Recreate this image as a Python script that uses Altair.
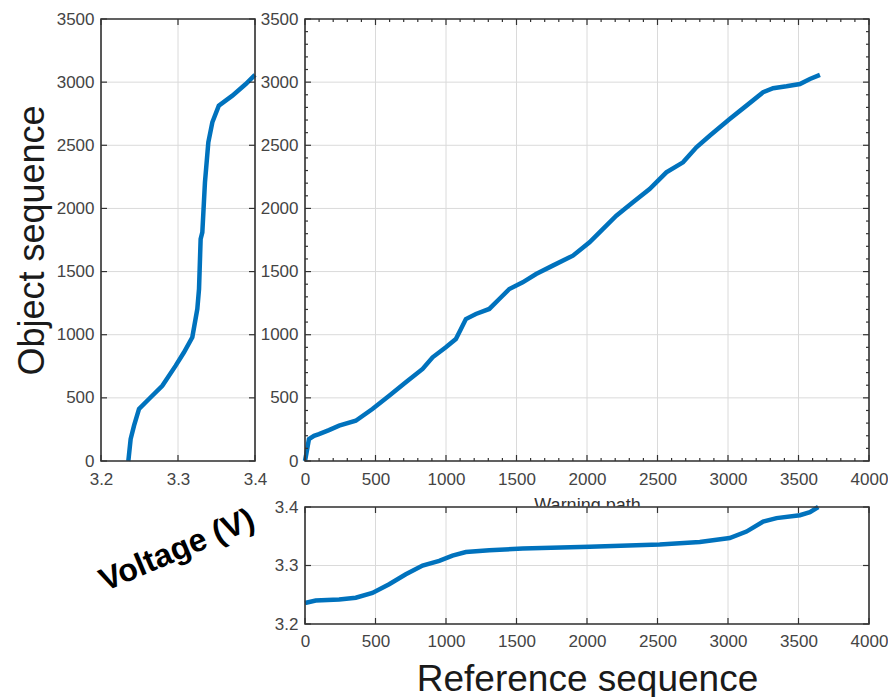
import altair as alt
import pandas as pd

# ---- data -----------------------------------------------------------------
# Warping path: reference index vs. object index
path_ref = [0, 10, 28, 64, 99, 170, 242, 360, 478, 597, 715, 834, 905, 999,
            1070, 1106, 1141, 1212, 1307, 1378, 1449, 1544, 1639, 1757, 1900,
            2018, 2089, 2208, 2326, 2444, 2563, 2681, 2776, 2870, 3012, 3131,
            3249, 3320, 3415, 3510, 3581, 3652]
path_obj = [0, 60, 174, 200, 213, 245, 280, 319, 412, 517, 623, 729, 821, 900,
            966, 1045, 1124, 1164, 1204, 1283, 1362, 1415, 1481, 1547, 1626,
            1732, 1811, 1942, 2048, 2154, 2286, 2365, 2484, 2576, 2708, 2814,
            2920, 2952, 2967, 2985, 3025, 3057]

# Reference voltage curve
ref_idx = [0, 76, 242, 360, 478, 597, 715, 834, 952, 1046, 1141, 1307, 1544,
           2018, 2515, 2800, 3012, 3131, 3249, 3344, 3510, 3581, 3640]
ref_volt = [3.236, 3.240, 3.242, 3.245, 3.253, 3.268, 3.285, 3.300, 3.308,
            3.317, 3.323, 3.326, 3.329, 3.332, 3.336, 3.340, 3.347, 3.358,
            3.375, 3.381, 3.386, 3.391, 3.400]

# Object voltage curve
obj_volt = [3.2355, 3.2385, 3.2429, 3.2494, 3.2623, 3.2796, 3.2970, 3.3078,
            3.3186, 3.3251, 3.3273, 3.3294, 3.3316, 3.3350, 3.3394, 3.3446,
            3.3530, 3.3706, 3.3880, 3.4000]
obj_idx = [0, 174, 280, 412, 491, 596, 755, 861, 980, 1204, 1362, 1758, 1811,
           2207, 2524, 2682, 2814, 2893, 2985, 3057]

# tick positions
seq_ticks = [0, 500, 1000, 1500, 2000, 2500, 3000, 3500, 4000]
obj_ticks = [0, 500, 1000, 1500, 2000, 2500, 3000, 3500]
volt_ticks = [3.2, 3.3, 3.4]
seq_minor = [v for v in range(0, 4001, 100) if v % 500]
obj_minor = [v for v in range(0, 3501, 100) if v % 500]

BLUE = "#0072BD"
TICK = "#333333"
GRID = "#dadada"
FONT = "Liberation Sans"
LINE_W = 4.5

path_df = pd.DataFrame({"ref": path_ref, "obj": path_obj})
ref_df = pd.DataFrame({"ref": ref_idx, "volt": ref_volt})
obj_df = pd.DataFrame({"volt": obj_volt, "obj": obj_idx})

SEQ_DOM = [0, 4000]
OBJ_DOM = [0, 3500]
VOLT_DOM = [3.2, 3.4]
seq_scale = alt.Scale(domain=SEQ_DOM, nice=False, zero=False)
obj_scale = alt.Scale(domain=OBJ_DOM, nice=False, zero=False)
volt_scale = alt.Scale(domain=VOLT_DOM, nice=False, zero=False)


def grid(values, channel, scale, axis, W, H):
    """Light grid lines across the plot area."""
    rule = alt.Chart(pd.DataFrame({"t": values})).mark_rule(
        color=GRID, strokeWidth=1)
    if channel == "x":
        return rule.encode(x=alt.X("t:Q", scale=scale, axis=axis),
                           y=alt.value(0), y2=alt.value(H))
    return rule.encode(y=alt.Y("t:Q", scale=scale, axis=axis),
                       x=alt.value(0), x2=alt.value(W))


def inward_ticks(values, channel, scale, axis, W, H, length):
    """Box ticks on all four sides, pointing into the plot area."""
    rule = alt.Chart(pd.DataFrame({"t": values})).mark_rule(
        color=TICK, strokeWidth=1.2)
    if channel == "x":
        pos = alt.X("t:Q", scale=scale, axis=axis)
        return [
            rule.encode(x=pos, y=alt.value(H), y2=alt.value(H - length)),
            rule.encode(x=pos, y=alt.value(0), y2=alt.value(length)),
        ]
    pos = alt.Y("t:Q", scale=scale, axis=axis)
    return [
        rule.encode(y=pos, x=alt.value(0), x2=alt.value(length)),
        rule.encode(y=pos, x=alt.value(W), x2=alt.value(W - length)),
    ]


def frame(xdom, ydom, xscale, yscale, xaxis, yaxis):
    """Axes box spanning both scale domains."""
    df = pd.DataFrame({"x0": [xdom[0]], "x1": [xdom[1]],
                       "y0": [ydom[0]], "y1": [ydom[1]]})
    return alt.Chart(df).mark_rect(
        filled=False, stroke="#333333", strokeWidth=1.6
    ).encode(
        x=alt.X("x0:Q", scale=xscale, axis=xaxis), x2="x1:Q",
        y=alt.Y("y0:Q", scale=yscale, axis=yaxis), y2="y1:Q",
    )


# ---- left: object voltage vs object sequence ------------------------------
LW, LH = 154, 442
left_x_axis = alt.Axis(values=volt_ticks, format=".1f", title=None,
                       labelPadding=10)
left_y_axis = alt.Axis(values=obj_ticks, format="d", title="Object sequence",
                       titleFontSize=36, titleFontWeight="normal",
                       titleColor="#1a1a1a", titleAngle=270,
                       titleBaseline="middle", titleAlign="center",
                       titleX=-69, titleY=221, labelPadding=7)
left_line = alt.Chart(obj_df).mark_line(color=BLUE, strokeWidth=LINE_W).encode(
    x=alt.X("volt:Q", scale=volt_scale, axis=left_x_axis),
    y=alt.Y("obj:Q", scale=obj_scale, axis=left_y_axis),
    order="obj:Q",
)
volt_label = alt.Chart(pd.DataFrame({"lbl": ["Voltage (V)"]})).mark_text(
    font=FONT, fontSize=32, fontWeight="bold", angle=337, color="black",
    align="center", baseline="middle",
).encode(text="lbl:N", x=alt.value(76), y=alt.value(531))

left = alt.layer(
    grid(volt_ticks, "x", volt_scale, left_x_axis, LW, LH),
    grid(obj_ticks, "y", obj_scale, left_y_axis, LW, LH),
    left_line,
    *inward_ticks(volt_ticks, "x", volt_scale, left_x_axis, LW, LH, 6),
    *inward_ticks(obj_ticks, "y", obj_scale, left_y_axis, LW, LH, 6),
    frame(VOLT_DOM, OBJ_DOM, volt_scale, obj_scale, left_x_axis, left_y_axis),
    volt_label,
).properties(width=LW, height=LH)

# ---- main: warping path ---------------------------------------------------
MW, MH = 564, 442
main_x_axis = alt.Axis(values=seq_ticks, format="d", title="Warning path",
                       titleFontSize=18, titleFontWeight="normal",
                       titleColor="#333333", titleBaseline="alphabetic",
                       titleY=49, labelPadding=10)
main_y_axis = alt.Axis(values=obj_ticks, format="d", title=None,
                       labelPadding=7)
main_line = alt.Chart(path_df).mark_line(color=BLUE, strokeWidth=LINE_W).encode(
    x=alt.X("ref:Q", scale=seq_scale, axis=main_x_axis),
    y=alt.Y("obj:Q", scale=obj_scale, axis=main_y_axis),
)
main = alt.layer(
    grid(seq_ticks, "x", seq_scale, main_x_axis, MW, MH),
    grid(obj_ticks, "y", obj_scale, main_y_axis, MW, MH),
    main_line,
    *inward_ticks(seq_ticks, "x", seq_scale, main_x_axis, MW, MH, 6),
    *inward_ticks(seq_minor, "x", seq_scale, main_x_axis, MW, MH, 3),
    *inward_ticks(obj_ticks, "y", obj_scale, main_y_axis, MW, MH, 6),
    *inward_ticks(obj_minor, "y", obj_scale, main_y_axis, MW, MH, 3),
    frame(SEQ_DOM, OBJ_DOM, seq_scale, obj_scale, main_x_axis, main_y_axis),
).properties(width=MW, height=MH)

# ---- bottom: reference voltage vs reference sequence ----------------------
BW, BH = 564, 117
bottom_x_axis = alt.Axis(values=seq_ticks, format="d",
                         title="Reference sequence",
                         titleFontSize=37, titleFontWeight="normal",
                         titleColor="#1a1a1a", titleBaseline="middle",
                         titleY=55, labelPadding=9)
bottom_y_axis = alt.Axis(values=volt_ticks, format=".1f", title=None,
                         labelPadding=7)
bottom_line = alt.Chart(ref_df).mark_line(color=BLUE, strokeWidth=LINE_W).encode(
    x=alt.X("ref:Q", scale=seq_scale, axis=bottom_x_axis),
    y=alt.Y("volt:Q", scale=volt_scale, axis=bottom_y_axis),
)
bottom = alt.layer(
    grid(seq_ticks, "x", seq_scale, bottom_x_axis, BW, BH),
    grid(volt_ticks, "y", volt_scale, bottom_y_axis, BW, BH),
    bottom_line,
    *inward_ticks(seq_ticks, "x", seq_scale, bottom_x_axis, BW, BH, 6),
    *inward_ticks(volt_ticks, "y", volt_scale, bottom_y_axis, BW, BH, 6),
    frame(SEQ_DOM, VOLT_DOM, seq_scale, volt_scale, bottom_x_axis,
          bottom_y_axis),
).properties(width=BW, height=BH)

right_col = alt.vconcat(main, bottom, spacing=46, bounds="flush")

chart = alt.hconcat(left, right_col, spacing=50, bounds="flush").properties(
    padding={"left": 14, "top": 10, "right": 0, "bottom": 0}
).configure_view(
    fill="white", strokeWidth=0
).configure_axis(
    domain=False, ticks=False, grid=False,
    labelFont=FONT, labelFontSize=17, labelColor="#444444",
    labelOverlap=False, labelFlush=False, titleFont=FONT,
)

chart.save("out.html", embed_options={"renderer": "svg", "actions": False})
